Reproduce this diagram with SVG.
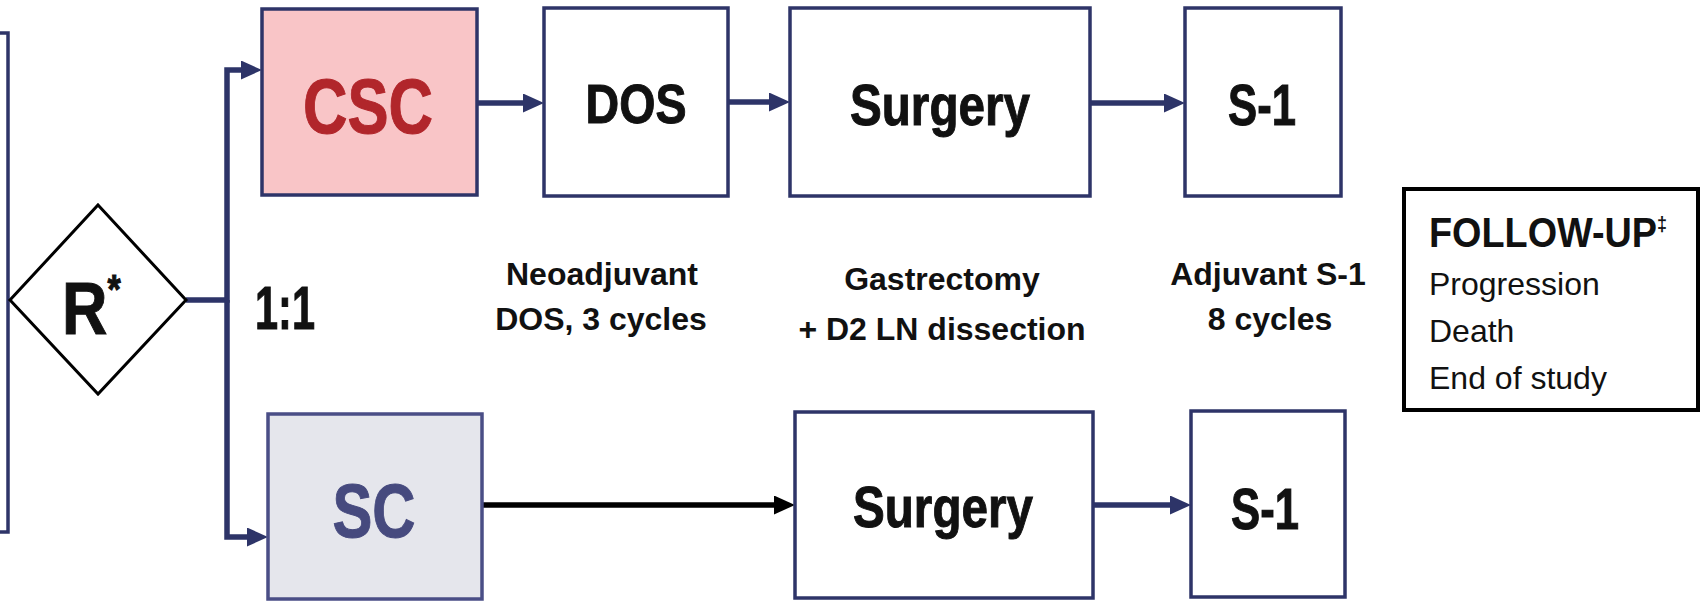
<svg xmlns="http://www.w3.org/2000/svg" width="1706" height="602" viewBox="0 0 1706 602">
<style>
.box{fill:#ffffff;stroke:#2E3468;stroke-width:3.5}
.big{font-family:"Liberation Sans Narrow","Liberation Sans",Arial,sans-serif;font-weight:bold;fill:#111111;stroke:#111111;stroke-width:1}
.lbl{font-family:"Liberation Sans",Arial,sans-serif;font-weight:bold;font-size:32px;fill:#111111;text-anchor:middle}
.fu{font-family:"Liberation Sans",Arial,sans-serif;font-size:32px;fill:#111111}
.nav{fill:none;stroke:#2D3468;stroke-width:5.5}
.blk{fill:none;stroke:#000000;stroke-width:5.5}
</style>
<defs>
<marker id="an" markerUnits="userSpaceOnUse" markerWidth="21" markerHeight="19" refX="13" refY="9.5" orient="auto">
<path d="M0,0 L21,9.5 L0,19 z" fill="#2D3468"/>
</marker>
<marker id="ab" markerUnits="userSpaceOnUse" markerWidth="21" markerHeight="19" refX="13" refY="9.5" orient="auto">
<path d="M0,0 L21,9.5 L0,19 z" fill="#000000"/>
</marker>
</defs>
<rect width="1706" height="602" fill="#ffffff"/>

<g id="connectors">
<path class="nav" d="M186,300 H227 V70 H254" marker-end="url(#an)"/>
<path class="nav" d="M227,300 V537 H260" marker-end="url(#an)"/>
<path class="nav" d="M477,103 H536" marker-end="url(#an)"/>
<path class="nav" d="M728,102 H782" marker-end="url(#an)"/>
<path class="nav" d="M1090,103 H1177" marker-end="url(#an)"/>
<path class="blk" d="M482,505 H787" marker-end="url(#ab)"/>
<path class="nav" d="M1093,505 H1183" marker-end="url(#an)"/>
</g>

<g id="left-box">
<rect x="-100" y="33" width="108" height="499" fill="#ffffff" stroke="#2E3468" stroke-width="3.5"/>
</g>

<g id="randomize">
<polygon points="98,205 186,300 98,394 10,300" fill="#ffffff" stroke="#000000" stroke-width="3"/>
<text class="big" transform="translate(62,334) scale(0.85,1)" x="0" y="0" font-size="74">R<tspan font-size="40" dy="-31">*</tspan></text>
</g>

<g id="ratio">
<text class="big" x="255" y="329" font-size="62" textLength="60" lengthAdjust="spacingAndGlyphs">1:1</text>
</g>

<g id="csc">
<rect x="262" y="9" width="215" height="186" fill="#F9C5C7" stroke="#2E3468" stroke-width="3.5"/>
<text class="big" x="368" y="133" font-size="78" style="fill:#B1262B;stroke:#B1262B" text-anchor="middle" textLength="130" lengthAdjust="spacingAndGlyphs">CSC</text>
</g>

<g id="dos">
<rect class="box" x="544" y="8" width="184" height="188"/>
<text class="big" x="636" y="123" font-size="56" text-anchor="middle" textLength="101" lengthAdjust="spacingAndGlyphs">DOS</text>
</g>

<g id="surgery-top">
<rect class="box" x="790" y="8" width="300" height="188"/>
<text class="big" x="940" y="125" font-size="58" text-anchor="middle" textLength="180" lengthAdjust="spacingAndGlyphs">Surgery</text>
</g>

<g id="s1-top">
<rect class="box" x="1185" y="8" width="156" height="188"/>
<text class="big" x="1262" y="125" font-size="58" text-anchor="middle" textLength="68" lengthAdjust="spacingAndGlyphs">S-1</text>
</g>

<g id="sc">
<rect x="268" y="414" width="214" height="185" fill="#E5E6EC" stroke="#4A4E86" stroke-width="3.5"/>
<text class="big" x="374" y="537" font-size="76" style="fill:#464A7E;stroke:#464A7E" text-anchor="middle" textLength="83" lengthAdjust="spacingAndGlyphs">SC</text>
</g>

<g id="surgery-bottom">
<rect class="box" x="795" y="412" width="298" height="186"/>
<text class="big" x="943" y="527" font-size="58" text-anchor="middle" textLength="180" lengthAdjust="spacingAndGlyphs">Surgery</text>
</g>

<g id="s1-bottom">
<rect class="box" x="1191" y="411" width="154" height="186"/>
<text class="big" x="1265" y="529" font-size="58" text-anchor="middle" textLength="68" lengthAdjust="spacingAndGlyphs">S-1</text>
</g>

<g id="labels">
<text class="lbl" x="602" y="285">Neoadjuvant</text>
<text class="lbl" x="601" y="330">DOS, 3 cycles</text>
<text class="lbl" x="942" y="290">Gastrectomy</text>
<text class="lbl" x="942" y="340">+ D2 LN dissection</text>
<text class="lbl" x="1268" y="285">Adjuvant S-1</text>
<text class="lbl" x="1270" y="330">8 cycles</text>
</g>

<g id="follow-up">
<rect x="1404" y="189" width="294" height="221" fill="#ffffff" stroke="#000000" stroke-width="4"/>
<text transform="translate(1429,247) scale(0.9,1)" x="0" y="0" font-family="Liberation Sans, Arial, sans-serif" font-weight="bold" font-size="42" fill="#111111">FOLLOW-UP<tspan font-size="20" dy="-16">‡</tspan></text>
<text class="fu" x="1429" y="295">Progression</text>
<text class="fu" x="1429" y="342">Death</text>
<text class="fu" x="1429" y="389">End of study</text>
</g>
</svg>
